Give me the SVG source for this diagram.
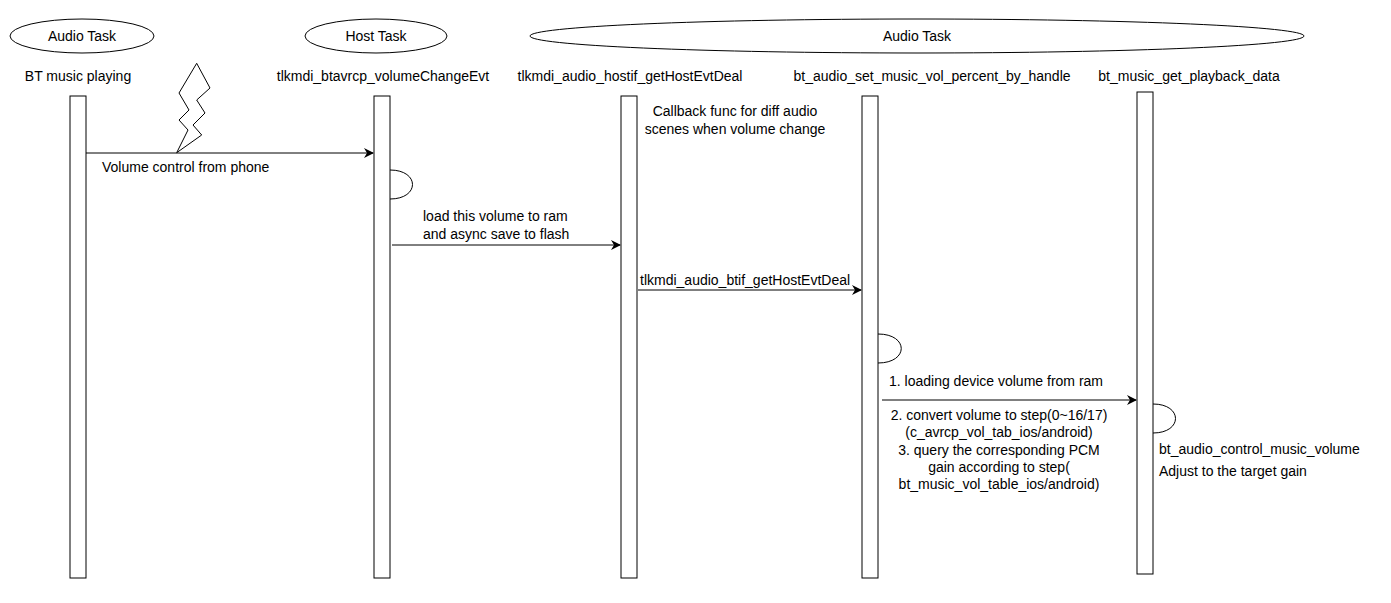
<svg xmlns="http://www.w3.org/2000/svg" width="1391" height="603" viewBox="0 0 1391 603">
<defs>
<style>
text{font-family:"Liberation Sans",Arial,sans-serif;font-size:14px;fill:#000}
.b{fill:#fff;stroke:#000;stroke-width:1}
.l{fill:none;stroke:#000;stroke-width:1}
.m{text-anchor:middle}
</style>
<marker id="a" markerWidth="10" markerHeight="10" refX="9" refY="5" orient="auto" markerUnits="userSpaceOnUse"><path d="M0,0 L10,5 L0,10 L3,5 Z" fill="#000"/></marker>
</defs>
<rect width="1391" height="603" fill="#fff"/>
<g id="n1"><ellipse class="b" cx="82" cy="36" rx="72" ry="17"/><text class="m" x="82" y="41">Audio Task</text><text class="m" x="78" y="81">BT music playing</text><rect class="b" x="70" y="96" width="16" height="482"/></g>
<g id="n2"><ellipse class="b" cx="376" cy="36" rx="71" ry="17"/><text class="m" x="376" y="41">Host Task</text><text class="m" x="383" y="81">tlkmdi_btavrcp_volumeChangeEvt</text><rect class="b" x="374" y="96" width="16" height="482"/></g>
<g id="n3"><ellipse class="b" cx="917" cy="36" rx="387" ry="17"/><text class="m" x="917" y="41">Audio Task</text><text class="m" x="630" y="81">tlkmdi_audio_hostif_getHostEvtDeal</text><rect class="b" x="621" y="96" width="16" height="482"/></g>
<g id="n4"><text class="m" x="932" y="81">bt_audio_set_music_vol_percent_by_handle</text><rect class="b" x="862" y="96" width="16" height="482"/></g>
<g id="n5"><text class="m" x="1189" y="81">bt_music_get_playback_data</text><rect class="b" x="1137" y="92" width="16" height="482"/></g>
<g id="bolt"><path class="l" d="M196.7,63.3 L210,88 L196.7,100 L205,113 L193,125 L201.7,135 L176.7,152.7 L188,130 L179,120 L189,110 L179,93 Z"/></g>
<g id="connectors">
<line class="l" x1="86" y1="153" x2="373" y2="153" marker-end="url(#a)"/>
<line class="l" x1="392" y1="245" x2="620" y2="245" marker-end="url(#a)"/>
<line class="l" x1="638" y1="290" x2="861" y2="290" marker-end="url(#a)"/>
<line class="l" x1="882" y1="400" x2="1136" y2="400" marker-end="url(#a)"/>
<path class="l" d="M390,170 C420,170 420,199 390,199"/>
<path class="l" d="M878,334 C909,334 909,363 878,363"/>
<path class="l" d="M1153,404 C1183,404 1183,433 1153,433"/>
</g>
<g id="labels">
<text x="102" y="172">Volume control from phone</text>
<text class="m" x="735" y="116">Callback func for diff audio</text>
<text class="m" x="735" y="134">scenes when volume change</text>
<text x="423" y="221">load this volume to ram</text>
<text x="423" y="239">and async save to flash</text>
<text x="640" y="285">tlkmdi_audio_btif_getHostEvtDeal</text>
<text x="889" y="386">1. loading device volume from ram</text>
<text class="m" x="999" y="420">2. convert volume to step(0~16/17)</text>
<text class="m" x="999" y="437">(c_avrcp_vol_tab_ios/android)</text>
<text class="m" x="999" y="455">3. query the corresponding PCM</text>
<text class="m" x="999" y="472">gain according to step(</text>
<text class="m" x="999" y="489">bt_music_vol_table_ios/android)</text>
<text x="1159" y="454">bt_audio_control_music_volume</text>
<text x="1159" y="476">Adjust to the target gain</text>
</g>
</svg>
